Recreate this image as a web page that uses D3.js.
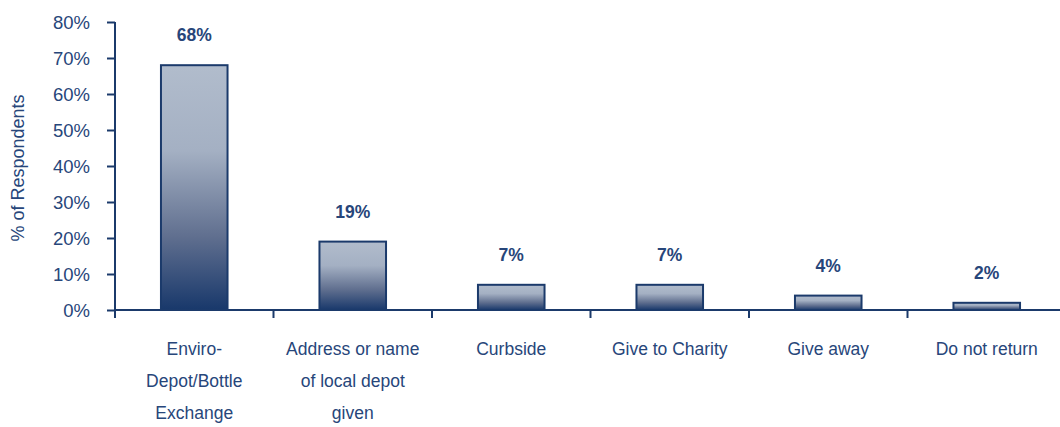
<!DOCTYPE html>
<html><head><meta charset="utf-8">
<script src="https://cdn.jsdelivr.net/npm/d3@7"></script>
<style>body{margin:0;background:#fff}</style>
</head><body>
<svg id="c" width="1060" height="427"></svg>
<script>
const categories = ["Enviro-Depot/Bottle Exchange","Address or name of local depot given","Curbside","Give to Charity","Give away","Do not return"];
const categoryLines = [["Enviro-","Depot/Bottle","Exchange"],["Address or name","of local depot","given"],["Curbside"],["Give to Charity"],["Give away"],["Do not return"]];
const values = [68,19,7,7,4,2];
const yTicks = [0,10,20,30,40,50,60,70,80];

const svg = d3.select("#c");
const navy = "#1b3a6b", txt = "#27467a";
const font = "Liberation Sans, Arial, sans-serif";
const x = d3.scaleBand().domain(categories).range([115,1066]).paddingInner(0.58).paddingOuter(0.29);
const y = d3.scaleLinear().domain([0,80]).range([310,22]);

const defs = svg.append("defs");
const g = defs.append("linearGradient").attr("id","bg").attr("x1",0).attr("y1",0).attr("x2",0).attr("y2",1);
[[0,"#b1bccc"],[0.35,"#a4b0c3"],[0.7,"#606f8f"],[1,"#18386b"]].forEach(s=>g.append("stop").attr("offset",s[0]).attr("stop-color",s[1]));

// bars
svg.selectAll("rect.bar").data(values).join("rect").attr("class","bar")
  .attr("x",(d,i)=>x(categories[i])).attr("width",x.bandwidth())
  .attr("y",d=>y(d)).attr("height",d=>y(0)-y(d))
  .attr("fill","url(#bg)").attr("stroke",navy).attr("stroke-width",2);

// value labels
svg.selectAll("text.val").data(values).join("text").attr("class","val")
  .attr("x",(d,i)=>x(categories[i])+x.bandwidth()/2).attr("y",d=>y(d)-24)
  .attr("text-anchor","middle").attr("font-family",font)
  .attr("font-weight","bold").attr("font-size",17.5).attr("fill",txt).text(d=>d+"%");

// y axis
const ya = svg.append("g").attr("transform","translate(115,0)")
  .call(d3.axisLeft(y).tickValues(yTicks).tickFormat(d=>d+"%").tickSize(8).tickPadding(17));
ya.select(".domain").attr("stroke",navy).attr("stroke-width",2).attr("d","M0,"+y(80)+"V318");
ya.selectAll(".tick line").attr("stroke",navy).attr("stroke-width",2);
ya.selectAll(".tick text").attr("font-family",font).attr("font-size",18.5).attr("fill",txt).attr("dy","0.36em");

// x axis
const xa = svg.append("g").attr("transform","translate(0,310)");
xa.append("line").attr("x1",115).attr("x2",1066).attr("stroke",navy).attr("stroke-width",2);
xa.selectAll("line.t").data(categories).join("line").attr("class","t")
  .attr("x1",c=>x(c)+x.bandwidth()/2-x.step()/2).attr("x2",c=>x(c)+x.bandwidth()/2-x.step()/2)
  .attr("y1",0).attr("y2",8).attr("stroke",navy).attr("stroke-width",2);

categories.forEach((c,i)=>{
  const t = svg.append("text").attr("x",x(c)+x.bandwidth()/2).attr("y",355)
    .attr("text-anchor","middle").attr("font-family",font)
    .attr("font-size",17.5).attr("fill",txt);
  categoryLines[i].forEach((l,j)=>t.append("tspan").attr("x",x(c)+x.bandwidth()/2).attr("y",355+j*32).text(l));
});

svg.append("text").attr("transform","translate(24,168) rotate(-90)").attr("text-anchor","middle")
  .attr("font-family",font).attr("font-size",18).attr("fill",txt)
  .text("% of Respondents");
</script>
</body></html>
